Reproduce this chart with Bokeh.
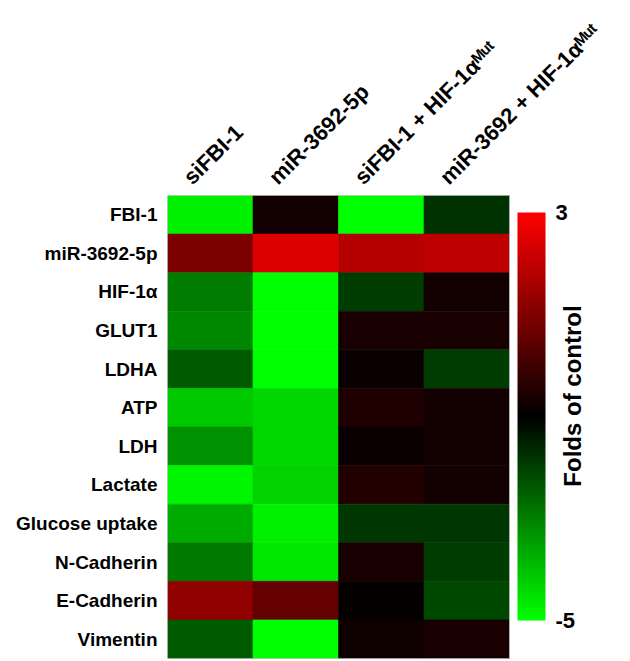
from math import pi
from bokeh.plotting import figure
from bokeh.models import (LinearColorMapper, ColorBar, FixedTicker, ColumnDataSource,
                          FactorRange, Range1d, Label, PrintfTickFormatter)
from bokeh.transform import transform
from bokeh.embed import file_html
from bokeh.resources import INLINE

conditions = ["siFBI-1", "miR-3692-5p", "siFBI-1 + HIF-1α\u1d39\u1d58\u1d57",
              "miR-3692 + HIF-1α\u1d39\u1d58\u1d57"]
markers = ["FBI-1", "miR-3692-5p", "HIF-1α", "GLUT1", "LDHA", "ATP", "LDH", "Lactate",
           "Glucose uptake", "N-Cadherin", "E-Cadherin", "Vimentin"]

si_fbi1 = [-4.76, 0.96, -2.96, -3.12, -2.41, -4.14, -3.27, -4.84, -3.67, -2.88, 1.27, -2.41]
mir3692 = [-0.69, 2.45, -5.0, -5.0, -5.0, -4.37, -4.37, -4.29, -4.76, -4.61, 0.57, -5.0]
si_fbi1_hif = [-5.0, 1.82, -1.94, -0.61, -0.84, -0.53, -0.84, -0.45, -1.86, -0.61, -0.92, -0.76]
mir3692_hif = [-1.78, 1.98, -0.69, -0.61, -1.94, -0.69, -0.69, -0.69, -1.86, -1.94, -2.10, -0.61]

scale_low, scale_high = -5, 3
colorbar_ticks = [-5, 3]
colorbar_title = "Folds of control"

series = [si_fbi1, mir3692, si_fbi1_hif, mir3692_hif]
positions = list(range(1, len(conditions) + 1))
xs, ys, vals = [], [], []
for pos, col in zip(positions, series):
    for m, v in zip(markers, col):
        xs.append(pos)
        ys.append(m)
        vals.append(v)
source = ColumnDataSource(dict(cond=xs, marker=ys, value=vals))

palette = []
for i in range(256):
    t = i / 255
    if t < 0.5:
        g = int(round(255 * (1 - 2 * t)))
        palette.append("#%02x%02x%02x" % (0, g, 0))
    else:
        r = int(round(255 * (2 * t - 1)))
        palette.append("#%02x%02x%02x" % (r, 0, 0))
mapper = LinearColorMapper(palette=palette, low=scale_low, high=scale_high)

FONT = "Liberation Sans"
CELL_W = 85.5
LEFT, TOP, BOTTOM, FRAME_H = 167, 195, 3, 463
FRAME_W = 630 - LEFT
x_end = 0.5 + FRAME_W / CELL_W
LABEL_SHIFT = 0.27  # slanted column labels start a little left of each column centre

p = figure(x_range=Range1d(0.5, x_end),
           y_range=FactorRange(*reversed(markers)), x_axis_location="above",
           output_backend="svg", toolbar_location=None,
           min_border_left=LEFT, min_border_right=0, min_border_top=TOP,
           min_border_bottom=BOTTOM, frame_width=FRAME_W, frame_height=FRAME_H)

p.rect(x="cond", y="marker", width=1, height=1, source=source,
       fill_color=transform("value", mapper), line_color=transform("value", mapper),
       line_width=0.6)
# thin grey border around the heat map
p.quad(left=[positions[0] - 0.5], right=[positions[-1] + 0.5], bottom=[0],
       top=[len(markers)], fill_color=None, line_color="#b0b0b0", line_width=1)

p.grid.grid_line_color = None
p.outline_line_color = None
p.background_fill_color = "white"
p.border_fill_color = "white"

for ax in (p.xaxis[0], p.yaxis[0]):
    ax.axis_line_color = None
    ax.major_tick_line_color = None
    ax.minor_tick_line_color = None
    ax.major_label_text_font = FONT
    ax.major_label_text_font_style = "bold"
    ax.major_label_text_color = "black"

label_ticks = [pos - LABEL_SHIFT for pos in positions]
p.xaxis.ticker = FixedTicker(ticks=label_ticks)
p.xaxis.major_label_overrides = {t: c for t, c in zip(label_ticks, conditions)}
p.yaxis.major_label_text_font_size = "19px"
p.yaxis.major_label_standoff = 4
p.xaxis.major_label_text_font_size = "22px"
p.xaxis.major_label_orientation = pi / 4
p.xaxis.major_label_standoff = 9

cb = ColorBar(color_mapper=mapper, ticker=FixedTicker(ticks=colorbar_ticks),
              formatter=PrintfTickFormatter(format="%d"),
              width=28, height=408, location=(350, 38), padding=0, margin=0,
              major_label_text_font=FONT, major_label_text_font_style="bold",
              major_label_text_font_size="22px", major_label_text_color="black",
              major_tick_line_color=None, bar_line_color=None, border_line_color=None,
              background_fill_color=None, label_standoff=10)
p.add_layout(cb)

lbl = Label(x=positions[-1] + 0.5, y=len(markers) / 2, x_offset=63, y_offset=31,
            text=colorbar_title, angle=pi / 2,
            text_align="center", text_baseline="middle",
            text_font=FONT, text_font_style="bold", text_font_size="24px",
            text_color="black")
p.add_layout(lbl)

open("out.html", "w").write(file_html(p, INLINE))
